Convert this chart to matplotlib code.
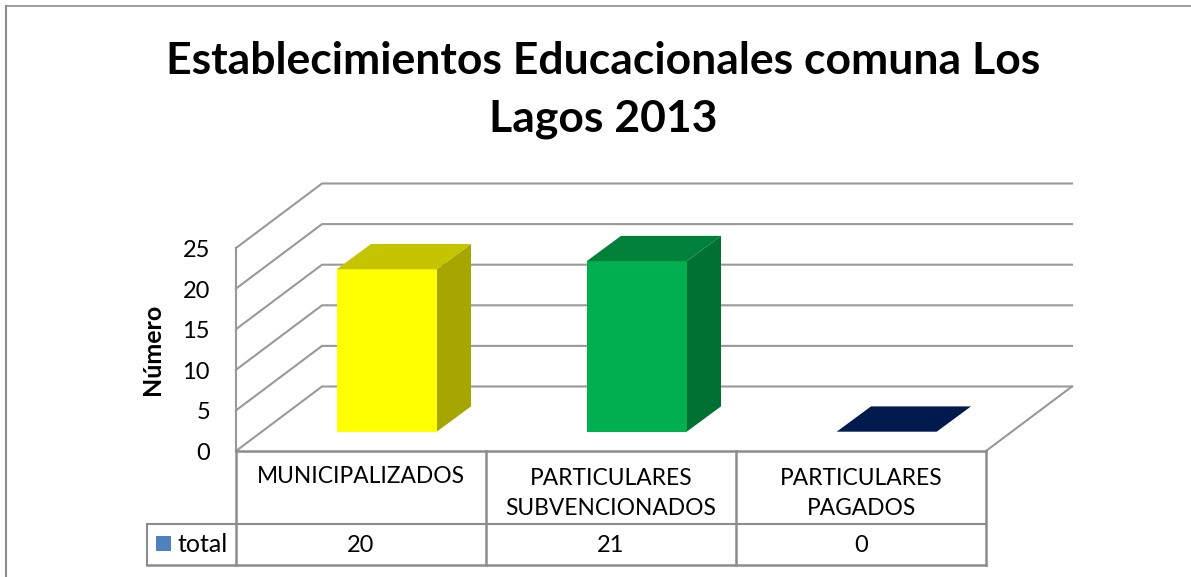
import matplotlib
matplotlib.use("Agg")
import matplotlib.pyplot as plt
from matplotlib.patches import Polygon, Rectangle

plt.rcParams['font.family'] = ['Lato', 'DejaVu Sans']

# data
categories = ["MUNICIPALIZADOS", "PARTICULARES\nSUBVENCIONADOS", "PARTICULARES\nPAGADOS"]
values = [20, 21, 0]
yticks = [0, 5, 10, 15, 20, 25]
series_name = "total"
title = "Establecimientos Educacionales comuna Los\nLagos 2013"
ylabel = "Número"

front_colors = ["#FFFF00", "#00B050", "#001A4D"]
top_colors = ["#C4C400", "#008038", "#001A4D"]
side_colors = ["#A6A600", "#007033", "#001A4D"]
grid_color = "#999999"
table_color = "#8C8C8C"

W, H = 1191, 577
fig = plt.figure(figsize=(W / 100, H / 100), dpi=100, facecolor="white")
ax = fig.add_axes([0, 0, 1, 1])

# x: 1 unidad = 1 categoria (250 px), y: 1 unidad = 1 valor (8.12 px)
px_x = 250.0
px_y = 8.12
x0_px, y0_px = 236.0, 451.0
xmin, xmax = -x0_px / px_x, (W - x0_px) / px_x
ymin, ymax = -(H - y0_px) / px_y, y0_px / px_y
ax.set_xlim(xmin, xmax)
ax.set_ylim(ymin, ymax)
ax.axis("off")

# profundidad del piso y de las barras
depth_x = 86.0 / px_x
depth_y = 64.5 / px_y
bar_dx = 34.3 / px_x
bar_dy = 25.3 / px_y
bar_w = 100.0 / px_x
bar_off_x = 100.7 / px_x
bar_off_y = 19.3 / px_y
n = len(categories)

# borde exterior (sin lado derecho)
ax.plot([xmin + 6 / px_x] * 2, [ymin, ymax - 6.5 / px_y], color="#8C8C8C", lw=1.5)
ax.plot([xmin + 6 / px_x, xmax], [ymax - 6.5 / px_y] * 2, color="#8C8C8C", lw=1.2)

# rejilla: pared izquierda + pared trasera
for t in yticks:
    ax.plot([0, depth_x, n + depth_x], [t, t + depth_y, t + depth_y], color=grid_color, lw=1.5,
            solid_joinstyle="miter", zorder=1)
    ax.text(-26 / px_x, t - 2.5 / px_y, str(t), ha="right", va="center", fontsize=17, color="black")
ax.plot([0, 0], [0, yticks[-1]], color=grid_color, lw=1.5, zorder=1)
# borde derecho del piso
ax.plot([n, n + depth_x], [0, depth_y], color=grid_color, lw=1.5, zorder=1)

# barras 3d
for i, v in enumerate(values):
    xl = i + bar_off_x
    xr = xl + bar_w
    yb = bar_off_y
    yt = yb + v
    if v > 0:
        ax.add_patch(Polygon([(xr, yb), (xr + bar_dx, yb + bar_dy), (xr + bar_dx, yt + bar_dy), (xr, yt)],
                             fc=side_colors[i], ec="none", zorder=3))
        ax.add_patch(Rectangle((xl, yb), bar_w, v, fc=front_colors[i], ec="none", zorder=3))
    ax.add_patch(Polygon([(xl, yt), (xl + bar_dx, yt + bar_dy), (xr + bar_dx, yt + bar_dy), (xr, yt)],
                         fc=top_colors[i], ec="none", zorder=3))

# tabla de datos
row1 = -72.7 / px_y
row2 = -114.0 / px_y
leg_x = -88.7 / px_x
ax.plot([0, n], [0, 0], color=table_color, lw=1.8, zorder=2)
ax.plot([leg_x, n], [row1, row1], color=table_color, lw=1.5, zorder=2)
ax.plot([leg_x, n], [row2, row2], color=table_color, lw=1.8, zorder=2)
ax.plot([leg_x, leg_x], [row1, row2], color=table_color, lw=1.5, zorder=2)
for i in range(n + 1):
    ax.plot([i, i], [0, row2], color=table_color, lw=1.8, zorder=2)

for i, cat in enumerate(categories):
    ax.text(i + 0.5, -25.5 / px_y if "\n" not in cat else -42.5 / px_y, cat, ha="center",
            va="center", fontsize=16.4, linespacing=1.56, color="black")
    ax.text(i + 0.5, -95 / px_y, str(values[i]), ha="center", va="center", fontsize=17, color="black")

ax.add_patch(Rectangle((-80 / px_x, -100 / px_y), 15 / px_x, 15 / px_y, fc="#4F81BD", ec="none", zorder=3))
ax.text(-58 / px_x, -94 / px_y, series_name, ha="left", va="center", fontsize=18, color="black")

# titulo y eje y
ax.text(xmin + 603 / px_x, ymax - 90 / px_y, title, ha="center", va="center",
        fontsize=32, fontweight="bold", linespacing=1.56, color="black")
ax.text(xmin + 152 / px_x, ymax - 349 / px_y, ylabel, rotation=90, ha="center",
        va="center", fontsize=18, fontweight="bold", color="black")

fig.savefig("out.png", dpi=100, facecolor="white")
